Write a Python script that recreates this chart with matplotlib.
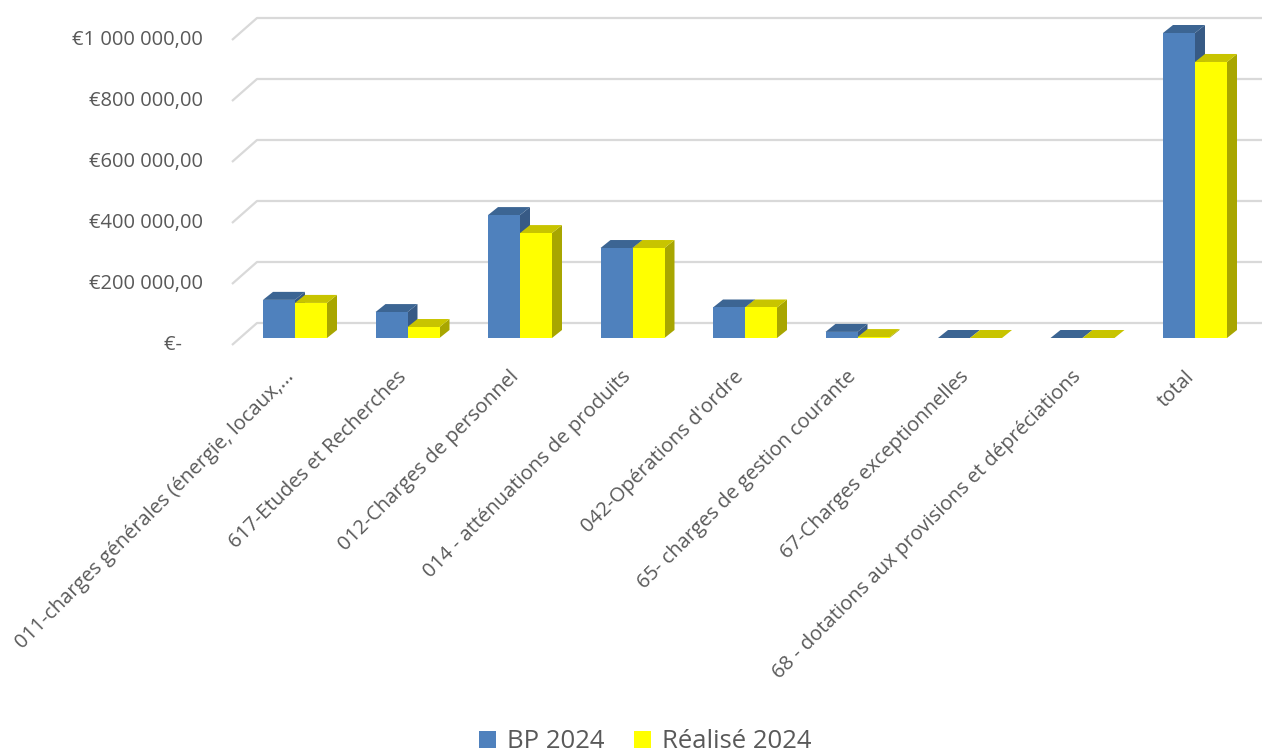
import matplotlib.pyplot as plt
from matplotlib.patches import Polygon, Patch

CATEGORIES = [
    "011-charges générales (énergie, locaux,...",
    "617-Etudes et Recherches",
    "012-Charges de personnel",
    "014 - atténuations de produits",
    "042-Opérations d'ordre",
    "65- charges de gestion courante",
    "67-Charges exceptionnelles",
    "68 - dotations aux provisions et dépréciations",
    "total",
]
BP_2024 = [125000, 85000, 403000, 295000, 100000, 20000, 0, 0, 1000000]
REALISE_2024 = [115000, 36000, 344000, 295000, 100000, 3000, 0, 0, 905000]
Y_TICKS = [0, 200000, 400000, 600000, 800000, 1000000]
Y_TICK_LABELS = ["€-    ", "€200 000,00", "€400 000,00", "€600 000,00", "€800 000,00", "€1 000 000,00"]

W, H = 1262, 756
PX_CAT = 112.5          # pixels per category
PX_VAL = 305 / 1e6      # pixels per euro
X0, Y0 = 287, 345       # pixel of category 0 / value 0 on the front plane

TEXT = "#595959"
GRID = "#D9D9D9"
SERIES = [
    ("BP 2024", BP_2024, "#4F81BD", "#3C6593", "#375A85"),
    ("Réalisé 2024", REALISE_2024, "#FFFF00", "#C8C400", "#A8A600"),
]


def dx(px):
    return px / PX_CAT


def dy(px):
    return px / PX_VAL


def main():
    plt.rcParams["font.family"] = ["Open Sans", "DejaVu Sans"]
    fig = plt.figure(figsize=(W / 100, H / 100), dpi=100)
    ax = fig.add_axes([0, 0, 1, 1])
    ax.set_xlim(-X0 / PX_CAT, (W - X0) / PX_CAT)
    ax.set_ylim(-(H - Y0) / PX_VAL, Y0 / PX_VAL)
    ax.axis("off")

    # perspective gridlines: short diagonal on the floor side, then flat on back wall
    x_front, x_back, x_end = dx(232 - X0), dx(257 - X0), dx(W - X0)
    for v, lab in zip(Y_TICKS, Y_TICK_LABELS):
        ax.plot([x_front, x_back, x_end], [v, v + dy(22), v + dy(22)],
                color=GRID, lw=1.6, solid_capstyle="butt", zorder=1)
        ax.text(dx(203 - X0), v, lab, ha="right", va="center", color=TEXT, fontsize=14.5)

    bw = dx(32)
    off_x, off_y = dx(8), dy(7)       # front face offset from front plane
    dep_x, dep_y = dx(10), dy(8)      # bar depth
    for k, (name, vals, front, top, side) in enumerate(SERIES):
        for i, v in enumerate(vals):
            x0 = i - bw + k * bw + off_x
            x1 = x0 + bw
            b = off_y
            t = v + off_y
            z = 2 + i * 2 + k
            ax.add_patch(Polygon([(x1, b), (x1 + dep_x, b + dep_y), (x1 + dep_x, t + dep_y), (x1, t)],
                                 closed=True, fc=side, ec="none", zorder=z))
            ax.add_patch(Polygon([(x0, t), (x1, t), (x1 + dep_x, t + dep_y), (x0 + dep_x, t + dep_y)],
                                 closed=True, fc=top, ec="none", zorder=z))
            if v > 0:
                ax.add_patch(Polygon([(x0, b), (x1, b), (x1, t), (x0, t)],
                                     closed=True, fc=front, ec="none", zorder=z))

    for i, lab in enumerate(CATEGORIES):
        ax.text(i + dx(4), dy(-29), lab, rotation=45, rotation_mode="anchor",
                ha="right", va="center", color=TEXT, fontsize=14.5)

    handles = [Patch(fc=s[2], ec="none") for s in SERIES]
    fig.legend(handles, [s[0] for s in SERIES], loc="center", bbox_to_anchor=(645 / W, 1 - 742 / H),
               ncol=2, frameon=False, fontsize=18.5, labelcolor=TEXT, handlelength=0.68, handleheight=0.68,
               handletextpad=0.4, columnspacing=1.15, borderpad=0.1)

    fig.savefig("out.png", dpi=100)


if __name__ == "__main__":
    main()
